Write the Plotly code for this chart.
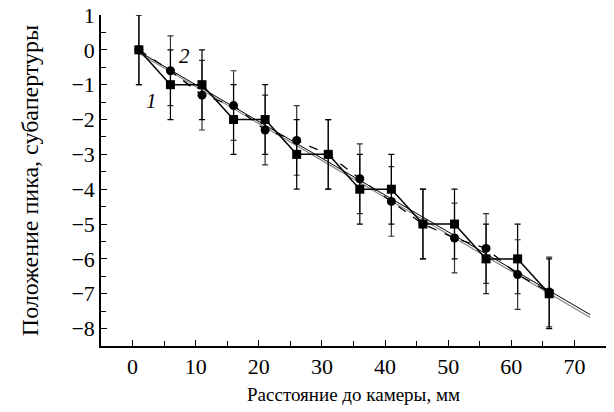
import plotly.graph_objects as go

# Data
x_pos = [1, 6, 11, 16, 21, 26, 31, 36, 41, 46, 51, 56, 61, 66]
series1_y = [0, -1, -1, -2, -2, -3, -3, -4, -4, -5, -5, -6, -6, -7]
series2_y = [0, -0.6, -1.3, -1.6, -2.3, -2.6, -3.0, -3.7, -4.35, -5.0, -5.4, -5.7, -6.45, -6.95]
err1 = [1] * 14
err2 = [1] * 14
fit_x = [1, 72.5]
fit1_y = [-0.05, -7.6]
fit2_y = [-0.1, -7.68]

x_ticks = [0, 10, 20, 30, 40, 50, 60, 70]
y_ticks = [1, 0, -1, -2, -3, -4, -5, -6, -7, -8]

FONT = "Liberation Serif"
TICKFONT = dict(family="Liberation Serif", size=22, color="black")

fig = go.Figure()
fig.add_trace(go.Scatter(x=fit_x, y=fit2_y, mode="lines",
                         line=dict(color="#888888", width=1.2), showlegend=False))
fig.add_trace(go.Scatter(x=fit_x, y=fit1_y, mode="lines",
                         line=dict(color="black", width=1), showlegend=False))
fig.add_trace(go.Scatter(x=x_pos, y=series2_y, mode="lines+markers",
                         line=dict(color="black", width=1.3, dash="dash"),
                         marker=dict(symbol="circle", size=9, color="black"),
                         error_y=dict(type="data", array=err2, visible=True,
                                      color="#333333", thickness=1.2, width=3),
                         showlegend=False))
fig.add_trace(go.Scatter(x=x_pos, y=series1_y, mode="lines+markers",
                         line=dict(color="black", width=1.5),
                         marker=dict(symbol="square", size=9, color="black"),
                         error_y=dict(type="data", array=err1, visible=True,
                                      color="black", thickness=1.2, width=3),
                         showlegend=False))

fig.add_annotation(x=8.3, y=-0.17, text="<i>2</i>", showarrow=False,
                   font=dict(family=FONT, size=21, color="black"))
fig.add_annotation(x=3.0, y=-1.47, text="<i>1</i>", showarrow=False,
                   font=dict(family=FONT, size=21, color="black"))

fig.update_layout(
    width=614, height=412,
    margin=dict(l=101, r=8, t=15, b=66),
    plot_bgcolor="white", paper_bgcolor="white",
    font=dict(family=FONT, size=21, color="black"),
    xaxis=dict(range=[-5, 75], tickvals=x_ticks, ticks="inside", ticklen=6,
               tickwidth=1.2, tickcolor="black", showline=True, linecolor="black",
               linewidth=1.5, showgrid=False, zeroline=False, automargin=False,
               ticklabeloverflow="allow", tickfont=TICKFONT,
               minor=dict(dtick=5, tick0=0, ticks="inside", ticklen=5, tickcolor="black"),
               title=dict(text="Расстояние до камеры, мм", font=dict(size=19), standoff=10)),
    yaxis=dict(range=[-8.5, 1], tickvals=y_ticks, ticks="inside", ticklen=6,
               tickwidth=1.2, tickcolor="black", showline=True, linecolor="black",
               linewidth=1.5, showgrid=False, zeroline=False, automargin=False,
               ticklabeloverflow="allow", tickfont=TICKFONT,
               minor=dict(dtick=0.5, tick0=0, ticks="inside", ticklen=5, tickcolor="black"),
               title=dict(text="Положение пика, субапертуры", font=dict(size=24), standoff=26)),
)

fig.write_html("out.html", config={"displayModeBar": False},
               post_script="document.body.style.margin='0';document.body.style.padding='0';")
